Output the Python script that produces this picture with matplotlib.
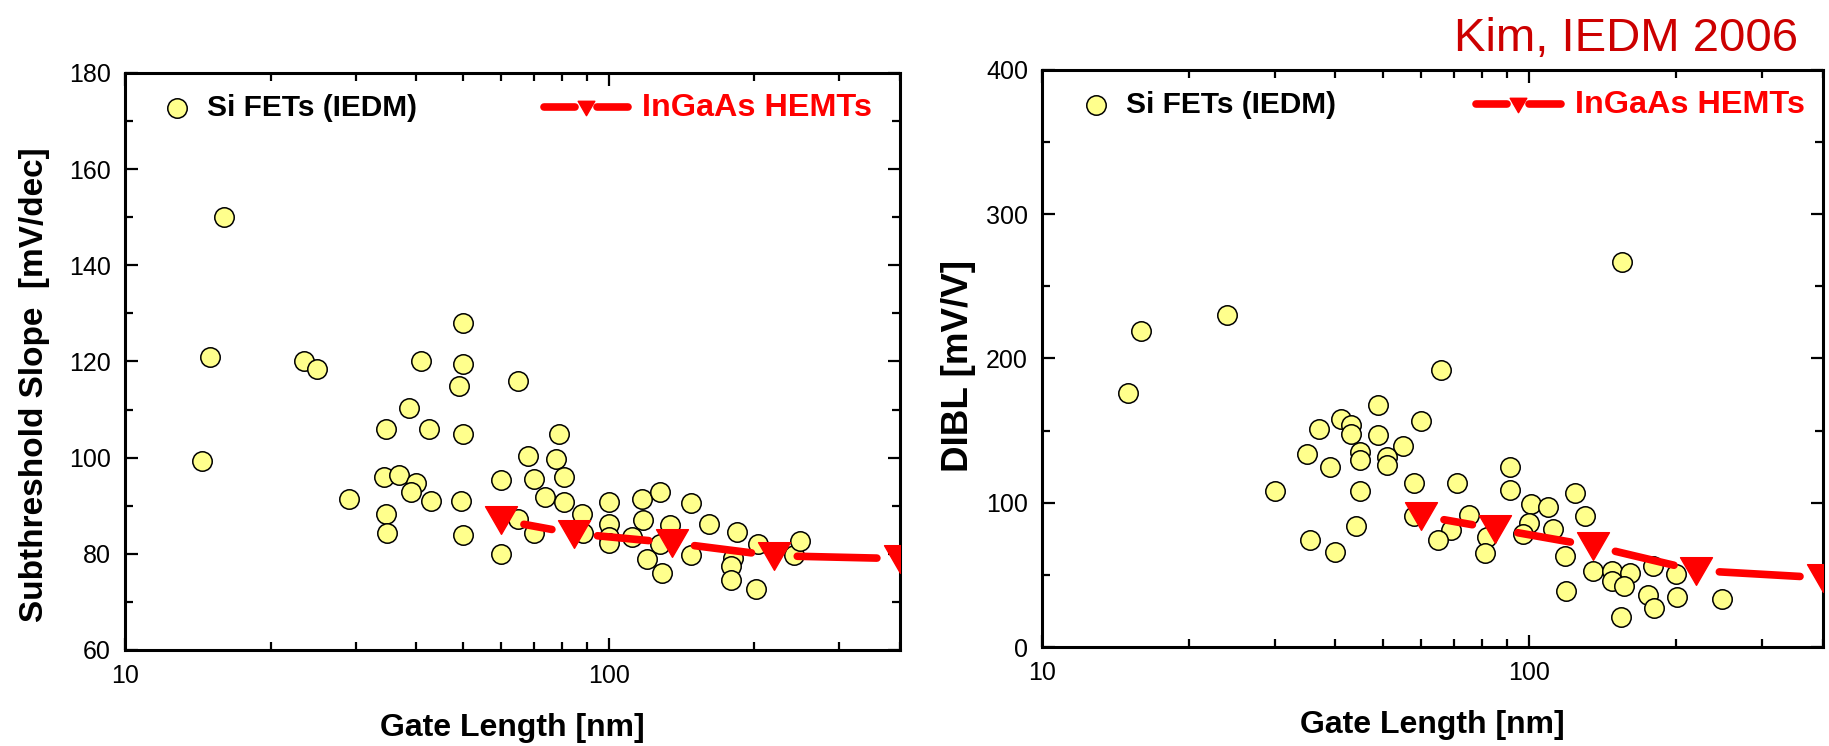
import numpy as np
import matplotlib
matplotlib.use("Agg")
import matplotlib.pyplot as plt
from matplotlib.path import Path
from matplotlib.ticker import FixedLocator, NullFormatter, FixedFormatter

plt.rcParams['font.family'] = ['Liberation Sans', 'DejaVu Sans']

# ---------- data ----------
# Si FETs (IEDM): subthreshold slope vs gate length
ss_len = [16, 15, 14.4, 23.4, 25, 41, 50, 50, 65, 49,
          29, 34.7, 38.6, 42.5, 50, 34.3, 36.8, 40, 39, 43,
          49.5, 34.6, 34.8, 50, 60, 60, 68, 65, 70, 70,
          74, 79, 78, 81, 81, 88, 88.5, 100, 100, 100,
          100, 112, 117, 118, 120, 128, 128, 129, 134, 148,
          148, 161, 184, 181, 179, 179, 204, 202, 242, 249]
ss_val = [150, 121, 99.4, 120, 118.5, 120, 128, 119.5, 116, 115,
          91.3, 106, 110.4, 106, 105, 96, 96.3, 94.7, 92.8, 91,
          91, 88.2, 84.3, 84, 95.4, 80, 100.4, 87.2, 95.6, 84.3,
          91.8, 105, 99.8, 96, 90.7, 88.3, 84.3, 90.7, 86.2, 83.5,
          82.2, 83.6, 91.4, 87, 79, 92.8, 82, 76, 86, 90.6,
          79.7, 86.3, 84.5, 79.2, 77.5, 74.6, 82, 72.6, 79.7, 82.6]

# Si FETs (IEDM): DIBL vs gate length
dibl_len = [155, 16, 24, 66, 15, 49, 41, 43, 43, 37,
            60, 49, 55, 35, 45, 45, 51, 51, 39, 58,
            71, 91, 91, 30, 45, 100.5, 109, 124, 130, 58,
            75, 100, 112, 69, 65, 82, 97, 81, 44, 35.5,
            40, 118, 119, 135, 148, 161, 148, 156, 154, 179,
            175, 180, 200, 201, 248]
dibl_val = [267, 219, 230, 192, 176, 168, 158, 154, 148, 151,
            157, 147, 139, 134, 135, 129.5, 132, 126, 125, 114,
            114, 125, 109, 108, 108, 99, 97, 107, 91, 90.5,
            91.6, 86, 82, 81, 74, 76.5, 78, 65, 84, 74,
            66, 63, 39, 53, 53, 51, 46, 42, 21, 56,
            36, 27, 50.5, 35, 33.5]

# InGaAs HEMTs
hemt_len = [60, 85, 135, 220, 400]
hemt_ss = [87, 84.2, 82.3, 79.6, 79]
hemt_dibl = [91, 82, 70, 53, 48]

x_major = [10, 100]
x_minor = [20, 30, 40, 50, 60, 70, 80, 90, 200, 300, 400]

# ---------- styles ----------
YELLOW = '#ffff8c'
RED = '#ff0000'
DARKRED = '#cc0000'
tri = Path([(-1, 0.866), (1, 0.866), (0, -0.866), (-1, 0.866)],
           [Path.MOVETO, Path.LINETO, Path.LINETO, Path.CLOSEPOLY])


def gapped_line(ax, xs, ys, gap, **kw):
    # Origin-style line: segments stop short of the symbols
    pts = ax.transData.transform(np.column_stack([xs, ys]))
    inv = ax.transData.inverted()
    for p0, p1 in zip(pts[:-1], pts[1:]):
        d = p1 - p0
        u = d / np.hypot(*d)
        a = inv.transform(p0 + u * gap)
        b = inv.transform(p1 - u * gap)
        ax.plot([a[0], b[0]], [a[1], b[1]], color=RED, lw=5.5,
                solid_capstyle='round', zorder=3)


def style_axes(ax, ylim, ymajor, yminor):
    ax.set_xscale('log')
    ax.set_xlim(10, 400)
    ax.set_ylim(*ylim)
    ax.xaxis.set_major_locator(FixedLocator(x_major))
    ax.xaxis.set_major_formatter(FixedFormatter([str(v) for v in x_major]))
    ax.xaxis.set_minor_locator(FixedLocator(x_minor))
    ax.xaxis.set_minor_formatter(NullFormatter())
    ax.yaxis.set_major_locator(FixedLocator(ymajor))
    ax.yaxis.set_minor_locator(FixedLocator(yminor))
    ax.tick_params(which='both', direction='in', top=True, right=True,
                   width=1.6, labelsize=18, pad=10)
    ax.tick_params(which='major', length=9)
    ax.tick_params(which='minor', length=5.5)
    for s in ax.spines.values():
        s.set_linewidth(2.2)
    ax.set_xlabel('Gate Length [nm]', fontsize=23, fontweight='bold', labelpad=18)


def legend(ax, x0, x1):
    ax.plot([x0], [0.939], 'o', ms=14, mfc=YELLOW, mec='black', mew=1.1,
            transform=ax.transAxes, clip_on=False)
    ax.text(x0 + 0.039, 0.939, 'Si FETs (IEDM)', transform=ax.transAxes,
            fontsize=21.5, fontweight='bold', va='center', ha='left')
    ax.plot([x1, x1 + 0.040], [0.941, 0.941], color=RED, lw=5.5,
            solid_capstyle='round', transform=ax.transAxes)
    ax.plot([x1 + 0.068, x1 + 0.108], [0.941, 0.941], color=RED, lw=5.5,
            solid_capstyle='round', transform=ax.transAxes)
    ax.plot([x1 + 0.054], [0.939], marker=tri, ms=12, color=RED, mec=RED,
            transform=ax.transAxes)
    ax.text(x1 + 0.126, 0.939, 'InGaAs HEMTs', transform=ax.transAxes,
            fontsize=23.3, fontweight='bold', color=RED, va='center', ha='left')


fig = plt.figure(figsize=(18.29, 7.46), dpi=100)

# ---------- left: subthreshold slope ----------
ax1 = fig.add_axes([0.0683, 0.1287, 0.4237, 0.7735])
style_axes(ax1, (60, 180), [60, 80, 100, 120, 140, 160, 180],
           [70, 90, 110, 130, 150, 170])
ax1.plot(ss_len, ss_val, 'o', ms=14, mfc=YELLOW, mec='black', mew=1.1, zorder=2)
gapped_line(ax1, hemt_len, hemt_ss, 23)
ax1.plot(hemt_len, hemt_ss, linestyle='none', marker=tri, ms=23,
         color=RED, mec=RED, zorder=4)
ax1.set_ylabel('Subthreshold Slope  [mV/dec]', fontsize=24,
               fontweight='bold')
ax1.yaxis.set_label_coords(-0.097, 0.46)
legend(ax1, 0.067, 0.541)

# ---------- right: DIBL ----------
ax2 = fig.add_axes([0.5697, 0.1327, 0.4270, 0.7735])
style_axes(ax2, (0, 400), [0, 100, 200, 300, 400], [50, 150, 250, 350])
ax2.plot(dibl_len, dibl_val, 'o', ms=14, mfc=YELLOW, mec='black', mew=1.1, zorder=2)
gapped_line(ax2, hemt_len, hemt_dibl, 23)
ax2.plot(hemt_len, hemt_dibl, linestyle='none', marker=tri, ms=23,
         color=RED, mec=RED, zorder=4)
ax2.set_ylabel('DIBL [mV/V]', fontsize=26.5, fontweight='bold')
ax2.yaxis.set_label_coords(-0.085, 0.487)
legend(ax2, 0.069, 0.556)

fig.text(0.983, 0.932, 'Kim, IEDM 2006', color=DARKRED, fontsize=34,
         ha='right', va='baseline')

fig.savefig('out.png', dpi=100)
